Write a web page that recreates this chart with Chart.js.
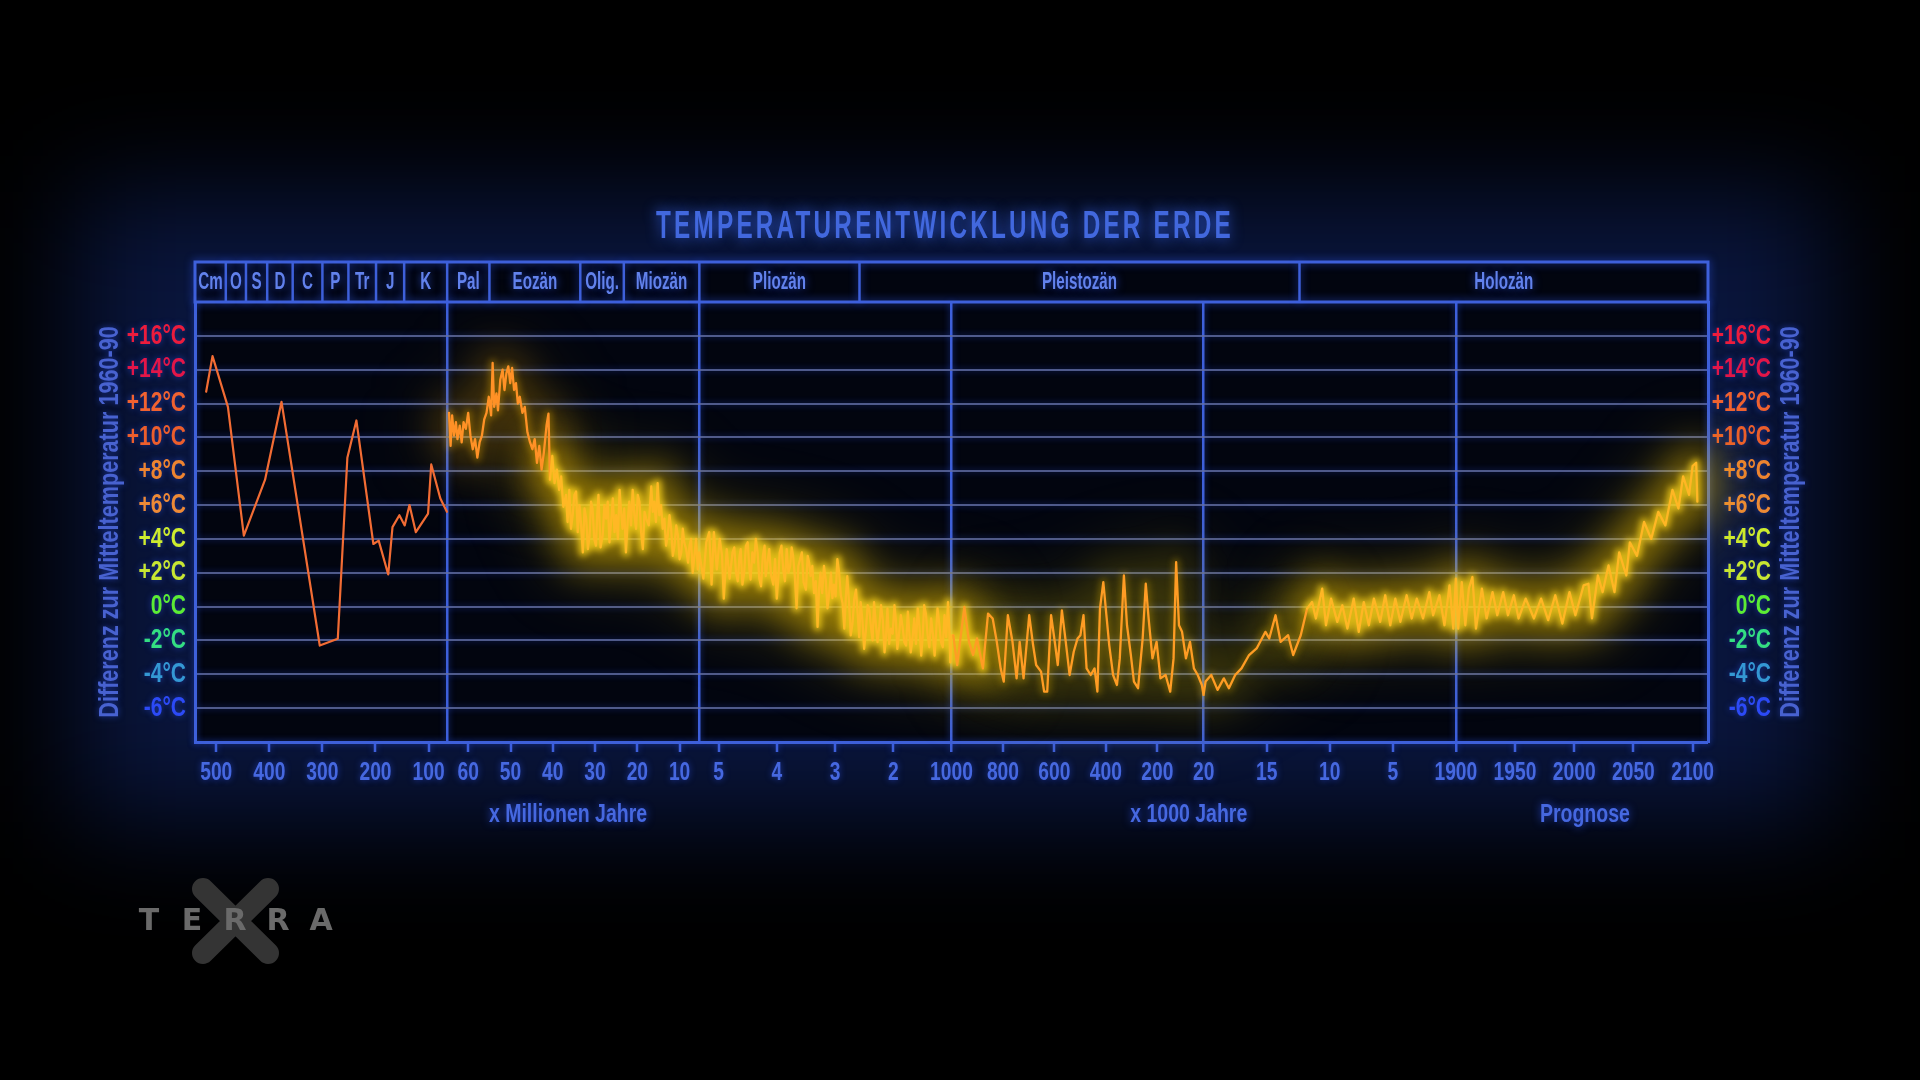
<!DOCTYPE html>
<html><head><meta charset="utf-8">
<script src="https://cdn.jsdelivr.net/npm/chart.js@4.4.1/dist/chart.umd.min.js"></script>
<style>html,body{margin:0;padding:0;background:#000;overflow:hidden}canvas{display:block}</style>
</head><body>
<canvas id="c" width="1920" height="1080" style="width:1920px;height:1080px"></canvas>
<script>
// ================= DATA =================
const chartTitle = 'TEMPERATURENTWICKLUNG DER ERDE';
const yAxisTitle = 'Differenz zur Mitteltemperatur 1960-90';

// Paläozoikum / Mesozoikum (Mio. Jahre, °C)
const paleoAgesMa = [519, 507, 478, 448, 408, 377, 305, 271, 253, 236, 204, 194, 176, 168, 155, 145, 136, 124, 101, 95, 78, 65.5];
const paleoTemps  = [12.7, 14.8, 11.8, 4.2, 7.5, 12.1, -2.3, -1.9, 8.8, 11.0, 3.7, 3.9, 1.9, 4.7, 5.4, 4.8, 6.0, 4.4, 5.5, 8.4, 6.4, 5.6];

// Paläogen / Neogen bis Pliozän (Mio. Jahre)
const cenoAgesMa = [64.56,64.19,63.83,63.38,62.93,62.56,62.02,61.57,61.12,60.57,60.03,59.49,58.94,58.40,57.86,57.33,56.78,56.23,55.69,55.15,54.60,54.24,53.88,53.34,52.98,52.43,51.89,51.44,50.98,50.53,50.08,49.63,49.17,48.72,48.27,47.82,47.19,46.64,46.01,45.38,44.83,44.29,43.75,43.20,42.66,42.12,41.49,41.03,40.67,40.13,39.59,39.04,38.50,
  38.04,37.5,36.9,36.5,36.1,35.7,35.3,34.9,34.5,34.1,33.7,33.3,32.9,32.5,32.1,31.7,31.3,30.95,30.6,30.2,29.8,29.5,29.2,28.7,28.2,27.8,27.4,27.0,26.6,26.2,25.8,25.4,25.0,24.6,24.2,23.85,23.5,23.1,22.7,22.3,21.9,21.5,21.1,20.7,20.3,19.9,19.5,19.1,18.7,18.3,17.9,17.3,16.7,16.35,16.0,15.6,15.2,14.8,14.4,14.0,13.6,13.2,12.8,12.4,12.0,11.6,11.2,10.8,10.4,10.0,9.6,9.25,8.9,8.45,8.0,7.65,7.3,6.9,6.5,6.1,5.7,5.35];
const cenoTemps  = [11.45,9.5,11.3,10.1,10.9,9.9,10.7,9.7,10.9,10.5,11.45,10.1,9.3,9.9,8.8,9.7,10.1,11.06,11.45,12.4,11.3,14.4,11.8,12.6,11.6,13.4,14.0,12.8,13.8,14.2,13.2,14.1,12.8,13.2,12.0,12.4,11.45,11.8,10.3,9.7,9.3,9.9,8.5,9.5,8.1,9.1,10.7,11.4,7.5,8.9,7.3,8.1,6.9,
  7.7,5.9,6.6,5.0,6.9,4.6,5.4,6.6,6.8,4.4,6.0,4.8,3.2,5.8,5.2,3.4,4.2,6.2,5.8,4.0,3.6,5.4,6.6,3.5,4.2,6.0,5.2,6.2,3.8,5.0,6.4,4.4,5.4,4.0,6.9,5.6,4.6,5.8,3.2,5.0,6.2,4.8,6.9,5.4,4.6,6.6,6.2,4.4,3.4,5.6,5.2,4.8,7.1,5.6,6.2,5.0,7.3,5.4,6.0,4.6,5.2,3.6,4.2,5.4,4.6,3.0,3.6,4.8,4.2,2.8,3.2,4.6,3.8,3.4,2.6,3.6,4.0,2.0,3.0,4.0,2.2,3.2];

// Pliozän / frühes Pleistozän (Mio. Jahre)
const plioAgesMa = [5.32,5.26,5.21,5.16,5.12,5.08,5.03,4.98,4.94,4.91,4.86,4.81,4.76,4.73,4.70,4.67,4.64,4.62,4.59,4.56,4.53,4.50,4.47,4.45,4.42,4.39,4.36,4.33,4.30,4.27,4.24,4.21,4.19,4.16,4.13,4.10,4.06,4.03,4.00,3.97,3.95,3.92,3.89,3.86,3.83,3.80,3.77,3.745,3.72,3.69,3.66,3.63,3.60,3.57,3.54,3.50,3.47,3.445,3.42,3.39,3.36,3.33,3.30,3.275,3.25,3.22,3.19,3.16,3.13,3.10,3.07,3.045,3.02,2.99,2.96,2.93,2.90,2.87,2.84,2.815,2.79,2.76,2.73,2.70,2.67,2.64,2.61,2.585,2.56,2.53,2.50,2.47,2.44,2.41,2.38,2.355,2.33,2.30,2.27,2.24,2.21,2.18,2.15,2.125,2.10,2.07,2.04,2.01,1.98,1.955,1.93,1.90,1.87,1.84,1.81,1.78,1.75,1.725,1.70,1.67,1.64,1.61,1.58,1.55,1.52,1.495,1.47,1.44,1.41,1.38,1.35,1.32,1.29,1.265,1.24,1.21,1.18,1.15,1.12,1.09,1.06,1.04,1.02,1.005];
const plioTemps  = [3.2,1.65,3.8,4.4,1.3,4.4,2.2,4.0,3.0,0.47,3.4,1.65,3.2,3.5,2.0,1.5,3.0,3.4,1.3,2.0,3.6,3.8,2.2,1.6,3.2,2.6,4.0,3.2,1.65,1.2,3.0,3.6,1.8,2.6,3.4,1.9,1.3,2.8,0.47,1.9,3.2,3.6,2.2,1.5,3.4,2.0,2.4,3.5,3.0,1.8,-0.1,2.4,2.8,3.2,1.45,1.0,3.0,2.6,1.8,2.4,0.8,1.5,-1.2,1.0,2.0,0.8,2.4,1.6,-0.1,0.8,2.0,0.5,1.3,0.6,2.8,2.0,0.67,0.2,-1.3,0.5,1.8,0.3,-1.7,-1.0,0.47,1.0,-0.5,-1.8,0.27,-0.8,-2.5,-1.4,0.08,-0.2,-1.3,-2.0,0.27,-1.0,-2.1,-1.2,0.08,-0.8,-2.7,-1.8,-0.1,-2.2,-1.3,-1.6,0.08,-0.8,-2.5,-1.6,-0.5,-1.2,-2.1,-2.3,-0.3,-1.5,-2.7,-1.9,-0.7,-2.2,-0.1,-1.2,-2.9,-1.8,0.08,-0.4,-1.7,-2.4,-0.7,-1.6,-2.9,-1.6,-0.1,-1.0,-2.1,-2.4,-0.5,-1.8,0.27,-1.2,-3.3,-1.7];

// Pleistozän (1000 Jahre)
const pleistoAgesKa = [993,978,950,932,916,901,878,858,840,824,809,797,781,763,747,735,720,698,683,671,652,640,628,613,597,587,571,556,541,525,510,499,487,475,459,444,433,423,410,398,387,372,357,346,330,318,303,291,275,257,245,234,219,203,188,168,150,137,127,116,104,89,73,58,43,27,20.5];
const pleistoTemps  = [-1.7,-3.45,-0.02,-2.08,-2.86,-1.88,-3.65,-0.41,-0.7,-2.08,-3.65,-4.43,-0.51,-2.08,-4.24,-2.08,-4.24,-0.51,-2.27,-3.45,-3.84,-5.02,-5.02,-0.51,-2.27,-3.45,-0.22,-2.08,-4.04,-2.67,-1.88,-1.69,-0.51,-3.65,-4.04,-3.65,-5.02,-0.12,1.45,-0.51,-2.27,-4.04,-4.63,-3.06,1.84,-1.1,-2.86,-4.43,-4.82,-1.88,1.35,-0.7,-3.06,-2.08,-4.24,-4.04,-5.02,-3.06,2.63,-1.1,-1.49,-3.06,-2.08,-3.65,-4.04,-4.63,-5.22];

// Spätglazial / Holozän (1000 Jahre)
const holoAgesKa = [19.85,19.4,18.9,18.4,18.0,17.5,17.0,16.4,15.8,15.1,14.8,14.3,13.9,13.3,12.9,12.3,11.8,11.4,11.1,10.6,10.3,9.9,9.4,9.0,8.6,8.1,7.7,7.3,6.9,6.5,6.0,5.6,5.2,4.8,4.4,3.9,3.5,3.1,2.6,2.1,1.8,1.3,0.9,0.5,0.2,0.0];
const holoTemps  = [-4.43,-4.04,-4.92,-4.24,-4.82,-4.04,-3.65,-2.86,-2.47,-1.49,-1.88,-0.51,-2.08,-1.69,-2.86,-1.69,-0.12,0.27,-0.7,1.06,-1.1,0.47,-0.9,0.08,-1.3,0.47,-1.49,0.27,-1.1,0.47,-0.9,0.67,-1.1,0.47,-0.9,0.67,-0.7,0.47,-0.7,0.86,-0.51,0.67,-1.1,1.26,-1.3,1.65];

// 1900 – 2100 (Jahr, Prognose)
const forecastYears = [1902,1905,1908,1911,1914,1917,1922,1926,1931,1935,1940,1944,1949,1953,1959,1966,1972,1978,1984,1990,1996,2001,2008,2012,2015,2020,2024,2029,2034,2038,2044,2047,2053,2059,2065,2071,2077,2083,2088,2092,2097,2100,2103,2104];
const forecastTemps = [-1.3,1.45,-1.1,1.06,1.75,-1.3,1.06,-0.7,0.86,-0.51,0.86,-0.51,0.67,-0.7,0.47,-0.7,0.47,-0.8,0.67,-1.0,0.86,-0.51,1.26,1.35,-0.7,1.84,0.86,2.43,0.86,3.2,1.84,3.8,3.0,5.0,4.0,5.6,4.8,6.9,5.8,7.7,6.6,8.3,8.5,6.2];

// Achsen
const maTicks   = [500, 400, 300, 200, 100, 60, 50, 40, 30, 20, 10, 5, 4, 3, 2];
const kaTicks   = [1000, 800, 600, 400, 200, 20, 15, 10, 5];
const yearTicks = [1900, 1950, 2000, 2050, 2100];
const yTicks    = [16, 14, 12, 10, 8, 6, 4, 2, 0, -2, -4, -6];
const yTickColors = ['rgb(236,28,60)','rgb(226,22,72)','rgb(240,98,48)','rgb(236,94,44)','rgb(238,132,48)','rgb(238,138,54)','rgb(206,236,46)','rgb(200,230,50)','rgb(92,236,52)','rgb(52,222,130)','rgb(52,152,212)','rgb(44,74,246)'];

// Skalenabschnitte (Jahre relativ zu 1900): 540 Ma | 65 Ma | 5,33 Ma | 1 Ma | 20 ka | 1900 | 2113
const segmentBreaks = [-540e6, -65e6, -5.33e6, -1e6, -20e3, 0, 213];

// Zeitalter-Leiste
const periodNames  = ['Cm','O','S','D','C','P','Tr','J','K','Pal','Eozän','Olig.','Miozän','Pliozän','Pleistozän','Holozän'];
const periodBounds = [-540e6,-482e6,-444e6,-404e6,-356e6,-300e6,-251e6,-199e6,-146e6,-65e6,-55e6,-33.5e6,-23.2e6,-5.33e6,-2.58e6,-12.4e3,213];

const captionTexts = ['x Millionen Jahre', 'x 1000 Jahre', 'Prognose'];
const captionAt    = [-36.4e6, -78e3, 109];

// ================= HELPERS =================
const fromMa = a => -a * 1e6, fromKa = k => -k * 1e3, fromYear = y => y - 1900;
const pts = (xs, ys, f) => xs.map((v, i) => ({ x: f(v), y: ys[i] }));
const paleoPoints = pts(paleoAgesMa, paleoTemps, fromMa);
const mainPoints = [].concat(
  pts(cenoAgesMa, cenoTemps, fromMa),
  pts(plioAgesMa, plioTemps, fromMa),
  pts(pleistoAgesKa, pleistoTemps, fromKa),
  pts(holoAgesKa, holoTemps, fromKa),
  pts(forecastYears, forecastTemps, fromYear));

const xTickValues = [].concat(maTicks.map(fromMa), kaTicks.map(fromKa), yearTicks.map(fromYear), [-65e6, -5.33e6]).sort((a, b) => a - b);
const xTickLabel = new Map();
maTicks.forEach(v => xTickLabel.set(fromMa(v), String(v)));
kaTicks.forEach(v => xTickLabel.set(fromKa(v), String(v)));
yearTicks.forEach(v => xTickLabel.set(fromYear(v), String(v)));
const boundarySet = new Set(segmentBreaks.slice(1, -1));
const yLabel = v => yTicks.includes(v) ? (v > 0 ? '+' + v + '°C' : v + '°C') : '';

const FONT = "'Liberation Sans', Arial, sans-serif";
const BLUE = 'rgb(62,96,218)';
const TXTBLUE = 'rgb(70,104,224)';
const GRID = 'rgba(98,110,165,0.8)';

function lineColor(x) {
  if (x < -41e6) return '#ff9126';
  if (x < -1.0e6) return '#ffb824';
  if (x < -12e3) return '#ff9c24';
  return '#ffb624';
}
// level 0 = core, 1 = halo, 2 = ambient haze
function glowColor(x, level) {
  const eo = ['rgba(255,190,0,0.28)', 'rgba(255,175,0,0.20)', 'rgba(190,150,0,0.10)'];
  const dense = ['rgba(255,215,30,0.75)', 'rgba(255,205,0,0.50)', 'rgba(200,170,0,0.22)'];
  const pleisto = ['rgba(240,190,0,0.26)', 'rgba(220,185,0,0.16)', 'rgba(170,150,0,0.16)'];
  const holo = ['rgba(255,215,30,0.7)', 'rgba(255,205,0,0.48)', 'rgba(200,170,0,0.2)'];
  if (x < -41e6) return eo[level];
  if (x < -0.9e6) return dense[level];
  if (x < -12e3) return pleisto[level];
  return holo[level];
}

// condensed text (DIN-Condensed look) drawn through Chart.js scale items
function drawCondensedLabels(scale, chartArea) {
  const ctx = scale.ctx, sx = scale.options.textScaleX || 1;
  if (!scale.options.ticks.display) return;
  for (const item of scale.getLabelItems(chartArea)) {
    const o = item.options;
    const lines = Array.isArray(item.label) ? item.label : [item.label];
    ctx.save();
    ctx.font = item.font.string;
    ctx.translate(o.translation[0], o.translation[1]);
    if (o.rotation) ctx.rotate(o.rotation);
    ctx.scale(sx, 1);
    ctx.fillStyle = o.color; ctx.textAlign = o.textAlign; ctx.textBaseline = o.textBaseline;
    let y = item.textOffset;
    for (const l of lines) { if (l !== '' && l != null) ctx.fillText(String(l), 0, y); y += item.font.lineHeight; }
    ctx.restore();
  }
}
function drawVerticalTitle(scale) {
  const t = scale.options.title;
  if (!t || !t.display) return;
  const ctx = scale.ctx, font = Chart.helpers.toFont(t.font), pad = Chart.helpers.toPadding(t.padding);
  const x = scale.options.position === 'left' ? scale.left + pad.top + font.lineHeight / 2 : scale.right + pad.top + font.lineHeight / 2;
  const y = (scale.top + scale.bottom) / 2;
  ctx.save();
  ctx.translate(x, y); ctx.rotate(-Math.PI / 2); ctx.scale(scale.options.titleScaleX || 1, 1);
  ctx.font = font.string; ctx.fillStyle = t.color; ctx.textAlign = 'center'; ctx.textBaseline = 'middle';
  ctx.fillText(t.text, 0, 0);
  ctx.restore();
}
function condensedText(ctx, text, x, y, sx) {
  ctx.save(); ctx.translate(x, y); ctx.scale(sx, 1); ctx.fillText(text, 0, 0); ctx.restore();
}

// ============ scales =============
class PiecewiseScale extends Chart.LinearScale {
  static id = 'piecewise';
  static defaults = {};
  buildTicks() { return (this.options.tickValues || []).map(v => ({ value: v })); }
  _frac(v) {
    const b = this.options.breakpoints, n = b.length - 1;
    if (v <= b[0]) return 0;
    if (v >= b[n]) return 1;
    for (let i = 0; i < n; i++) if (v <= b[i + 1]) return (i + (v - b[i]) / (b[i + 1] - b[i])) / n;
    return 1;
  }
  getPixelForValue(v) { return v == null ? NaN : this.getPixelForDecimal(this._frac(v)); }
  getValueForPixel(p) {
    const b = this.options.breakpoints, n = b.length - 1;
    const d = this.getDecimalForPixel(p) * n;
    const s = Math.min(n - 1, Math.max(0, Math.floor(d)));
    return b[s] + (d - s) * (b[s + 1] - b[s]);
  }
  drawLabels(a) { drawCondensedLabels(this, a); }
}
class CondensedLinear extends Chart.LinearScale {
  static id = 'condensedLinear';
  static defaults = {};
  drawLabels(a) { drawCondensedLabels(this, a); }
  drawTitle() { drawVerticalTitle(this); }
}
Chart.register(PiecewiseScale, CondensedLinear);

// ============ plugins =============
const glowPlugin = {
  id: 'glow',
  beforeDatasetsDraw(chart) { chart.ctx.shadowBlur = 0; chart.ctx.shadowColor = 'rgba(0,0,0,0)'; },
  beforeDatasetDraw(chart, args) {
    const ds = chart.data.datasets[args.index];
    chart.ctx.save();
    if (ds.glowBlur) chart.ctx.filter = 'blur(' + ds.glowBlur + 'px)';
  },
  afterDatasetDraw(chart) { chart.ctx.restore(); }
};

const decor = {
  id: 'decor',
  afterInit(chart) {
    const tb = chart.titleBlock;
    if (tb && !tb._fx) {
      const orig = tb.draw.bind(tb);
      tb.draw = function (a) {
        const c = chart.ctx, cx = (tb.left + tb.right) / 2;
        c.save();
        c.letterSpacing = '5px';
        c.shadowColor = 'rgba(60,110,255,0.9)'; c.shadowBlur = 14;
        c.translate(cx + 12, 0); c.scale(0.64, 1); c.translate(-cx, 0);
        orig(a); c.restore();
      };
      tb._fx = true;
    }
  },
  beforeDraw(chart) {
    const { ctx, chartArea: a } = chart;
    ctx.save();
    ctx.fillStyle = '#000'; ctx.fillRect(0, 0, chart.width, chart.height);
    ctx.filter = 'blur(55px)';
    ctx.fillStyle = 'rgba(18,42,120,0.5)';
    ctx.fillRect(a.left - 120, a.top - 110, a.right - a.left + 240, a.bottom - a.top + 190);
    ctx.filter = 'none';
    ctx.fillStyle = 'rgba(2,4,12,0.92)';
    ctx.fillRect(a.left, a.top - 40, a.right - a.left, a.bottom - a.top + 40);
    ctx.restore();
    ctx.shadowColor = 'rgba(50,90,255,0.55)';
    ctx.shadowBlur = 6;
  },
  afterDraw(chart) {
    const { ctx, chartArea: a, scales: { x } } = chart;
    ctx.save();
    ctx.shadowColor = 'rgba(50,90,255,0.7)'; ctx.shadowBlur = 8;
    const top = a.top - 40;
    // header box
    ctx.strokeStyle = BLUE; ctx.lineWidth = 3;
    ctx.strokeRect(a.left, top, a.right - a.left, 40);
    ctx.lineWidth = 2.5;
    ctx.font = 'bold 23px ' + FONT;
    ctx.textAlign = 'center'; ctx.textBaseline = 'middle';
    for (let i = 0; i < periodNames.length; i++) {
      const x0 = x.getPixelForValue(periodBounds[i]);
      const x1 = x.getPixelForValue(periodBounds[i + 1]);
      if (i > 0) { ctx.beginPath(); ctx.moveTo(x0, top); ctx.lineTo(x0, a.top); ctx.stroke(); }
      ctx.fillStyle = 'rgb(98,130,236)';
      condensedText(ctx, periodNames[i], (x0 + x1) / 2, top + 21, 0.66);
    }
    // captions
    ctx.font = 'bold 25px ' + FONT; ctx.fillStyle = TXTBLUE;
    captionTexts.forEach((t, i) => condensedText(ctx, t, x.getPixelForValue(captionAt[i]), 815, 0.78));
    // logo
    ctx.shadowBlur = 0;
    ctx.strokeStyle = 'rgb(52,52,52)'; ctx.lineWidth = 22; ctx.lineCap = 'round';
    ctx.beginPath(); ctx.moveTo(203, 889); ctx.lineTo(268, 953); ctx.moveTo(268, 889); ctx.lineTo(203, 953); ctx.stroke();
    ctx.fillStyle = 'rgb(106,106,106)'; ctx.font = 'bold 30px "DejaVu Sans"';
    ['T', 'E', 'R', 'R', 'A'].forEach((ch, i) => ctx.fillText(ch, 149 + i * 43, 922));
    ctx.restore();
  }
};

// ============ chart =============
const lineDefaults = { pointRadius: 0, tension: 0, borderJoinStyle: 'round', borderCapStyle: 'round' };
new Chart(document.getElementById('c'), {
  type: 'line',
  data: {
    datasets: [
      Object.assign({ label: 'Temperatur', data: mainPoints, borderWidth: 2.3, borderColor: '#ffb024', order: 0, clip: false,
        segment: { borderColor: c => lineColor(c.p0.parsed.x) } }, lineDefaults),
      Object.assign({ label: 'Paläozoikum', data: paleoPoints, borderWidth: 2.2, borderColor: 'rgb(242,108,52)', order: 1 }, lineDefaults),
      Object.assign({ label: 'glow-core', data: mainPoints, borderWidth: 8, borderColor: 'rgba(255,210,0,0.6)', order: 2, clip: false, glowBlur: 3,
        segment: { borderColor: c => glowColor(c.p0.parsed.x, 0) } }, lineDefaults),
      Object.assign({ label: 'glow-halo', data: mainPoints, borderWidth: 30, borderColor: 'rgba(255,200,0,0.4)', order: 3, clip: false, glowBlur: 18,
        segment: { borderColor: c => glowColor(c.p0.parsed.x, 1) } }, lineDefaults),
      Object.assign({ label: 'glow-ambient', data: mainPoints, borderWidth: 60, borderColor: 'rgba(200,170,0,0.2)', order: 4, clip: false, glowBlur: 32,
        segment: { borderColor: c => glowColor(c.p0.parsed.x, 2) } }, lineDefaults)
    ]
  },
  options: {
    responsive: false, devicePixelRatio: 1, animation: false,
    events: [],
    layout: { padding: { top: 180, left: 95, right: 149, bottom: 278 } },
    plugins: {
      legend: { display: false }, tooltip: { enabled: false },
      title: { display: true, text: chartTitle, color: 'rgb(66,104,222)', font: { family: FONT, size: 38, weight: 'bold', lineHeight: 1.2 },
        padding: { top: 25, bottom: 51.4 } }
    },
    scales: {
      x: {
        type: 'piecewise', position: 'bottom', min: segmentBreaks[0], max: segmentBreaks[segmentBreaks.length - 1],
        breakpoints: segmentBreaks, tickValues: xTickValues, textScaleX: 0.77,
        afterFit: s => { s.height = 60; },
        border: { display: true, color: BLUE, width: 3 },
        grid: {
          drawOnChartArea: true, drawTicks: true, tickLength: 10, tickWidth: 2.5,
          color: c => boundarySet.has(c.tick && c.tick.value) ? BLUE : 'rgba(0,0,0,0)',
          lineWidth: c => boundarySet.has(c.tick && c.tick.value) ? 2.5 : 0,
          tickColor: c => (c.tick && xTickLabel.has(c.tick.value)) ? BLUE : 'rgba(0,0,0,0)'
        },
        ticks: { autoSkip: false, maxRotation: 0, minRotation: 0, padding: 6, color: TXTBLUE,
          font: { family: FONT, size: 25, weight: 'bold' },
          callback: v => xTickLabel.get(v) || '' }
      },
      y: {
        type: 'condensedLinear', position: 'left', min: -8, max: 18, textScaleX: 0.75, titleScaleX: 0.8,
        afterFit: s => { s.width = 100; },
        border: { display: true, color: BLUE, width: 3 },
        grid: { drawTicks: false, lineWidth: 2, color: c => (c.tick && yTicks.includes(c.tick.value)) ? GRID : 'rgba(0,0,0,0)' },
        afterBuildTicks: s => { s.ticks = [-8].concat(yTicks.slice().reverse(), [18]).map(v => ({ value: v })); },
        ticks: { autoSkip: false, padding: 9, font: { family: FONT, size: 28, weight: 'bold', lineHeight: 1 },
          color: c => yTickColors[yTicks.indexOf(c.tick.value)] || 'rgba(0,0,0,0)',
          callback: yLabel },
        title: { display: true, text: yAxisTitle, color: 'rgb(72,98,208)', font: { family: FONT, size: 27, weight: 'bold' }, padding: { top: -1, bottom: 0 } }
      },
      y2: {
        type: 'condensedLinear', position: 'right', min: -8, max: 18, textScaleX: 0.75, titleScaleX: 0.8,
        afterFit: s => { s.width = 63; },
        border: { display: true, color: BLUE, width: 3 },
        grid: { display: false, drawOnChartArea: false },
        afterBuildTicks: s => { s.ticks = [-8].concat(yTicks.slice().reverse(), [18]).map(v => ({ value: v })); },
        ticks: { autoSkip: false, crossAlign: 'far', padding: 8, font: { family: FONT, size: 28, weight: 'bold', lineHeight: 1 },
          color: c => yTickColors[yTicks.indexOf(c.tick.value)] || 'rgba(0,0,0,0)',
          callback: yLabel },
        title: { display: true, text: yAxisTitle, color: 'rgb(72,98,208)', font: { family: FONT, size: 27, weight: 'bold' }, padding: { top: 4, bottom: 0 } }
      }
    }
  },
  plugins: [decor, glowPlugin]
});
</script>
</body></html>
